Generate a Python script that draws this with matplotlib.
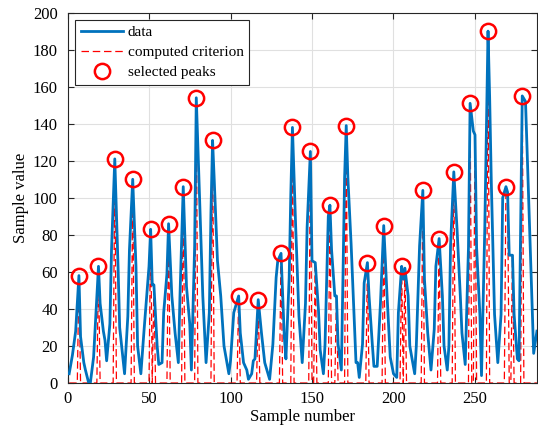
import matplotlib
matplotlib.use('Agg')
import matplotlib.pyplot as plt
import numpy as np

# sample number / value of the data curve (vertices)
sample_x = [1, 3, 5, 7, 8, 10, 11, 13, 14, 16, 17, 19, 20, 22, 23, 24, 26, 27, 29, 31,
            32, 35, 37, 38, 40, 42, 43, 45, 47, 50, 51, 52, 53, 55, 56, 58, 59, 61, 62, 64,
            66, 68, 69, 71, 73, 75, 76, 78, 79, 81, 83, 85, 87, 88, 89, 90, 92, 94, 96, 99,
            100, 102, 105, 106, 108, 110, 111, 113, 114, 115, 117, 119, 121, 124, 126, 128, 129, 131, 133, 134,
            136, 137, 138, 140, 142, 144, 146, 147, 149, 150, 152, 154, 155, 157, 158, 160, 161, 162, 164, 165,
            166, 168, 169, 170, 171, 172, 174, 176, 177, 178, 179, 181, 182, 184, 185, 187, 188, 190, 192, 194,
            196, 198, 200, 202, 203, 205, 206, 207, 209, 210, 213, 214, 216, 218, 219, 221, 223, 225, 226, 228,
            230, 231, 233, 234, 235, 237, 239, 241, 242, 244, 246, 247, 249, 250, 251, 253, 254, 256, 258, 259,
            260, 262, 264, 266, 267, 269, 270, 271, 273, 274, 276, 277, 278, 279, 281, 283, 286, 288]
sample_y = [5, 15, 28, 58, 25, 11, 7, 0, 0, 14, 30, 63, 43, 28, 23, 12, 32, 72, 121, 63,
            30, 5, 36, 72, 110, 63, 20, 5, 29, 63, 83, 53, 53, 20, 10, 11, 38, 59, 86, 47,
            27, 11, 47, 106, 52, 32, 7, 74, 154, 100, 47, 11, 38, 92, 131, 110, 66, 47, 20, 5,
            12, 38, 47, 27, 11, 7, 2, 5, 12, 13, 45, 27, 11, 2, 21, 57, 66, 70, 25, 13,
            57, 102, 138, 84, 36, 11, 43, 84, 125, 66, 65, 39, 18, 5, 21, 90, 96, 72, 47, 47,
            21, 7, 57, 111, 139, 111, 75, 32, 11, 11, 3, 21, 54, 65, 47, 21, 9, 9, 43, 85,
            48, 14, 5, 3, 38, 63, 56, 62, 47, 20, 5, 20, 74, 104, 56, 27, 7, 29, 63, 78,
            47, 20, 7, 20, 74, 114, 83, 47, 27, 10, 73, 151, 136, 134, 73, 37, 4, 83, 190, 154,
            109, 37, 11, 37, 100, 106, 103, 69, 69, 37, 13, 12, 83, 155, 152, 98, 16, 28]

# selected peaks (sample numbers)
peak_x = [7, 19, 29, 40, 51, 62, 71, 79, 89, 105, 117, 131, 138, 149, 161, 171, 184,
          194, 205, 218, 228, 237, 247, 258, 269, 279]
# smaller local maxima that also show up in the criterion
extra_x = [53, 152, 165, 207, 250, 270, 273]

lookup = dict(zip(sample_x, sample_y))
peak_y = [lookup[p] for p in peak_x]

n_samples = 288
crit_n = np.arange(1, n_samples + 1)
crit = np.zeros(n_samples)
for p in peak_x + extra_x:
    crit[p - 1] = lookup[p]

plt.rcParams['font.family'] = ['Liberation Serif', 'DejaVu Serif']
plt.rcParams['mathtext.fontset'] = 'stix'

fig = plt.figure(figsize=(5.38, 4.34), dpi=100)
ax = fig.add_axes([0.1255, 0.1175, 0.8725, 0.8535])

ax.plot(sample_x, sample_y, color='#0072BD', lw=2, label='data', zorder=3)
ax.plot(crit_n, crit, color='red', lw=0.9, dashes=(6, 3), label='computed criterion', zorder=2)
ax.plot(peak_x, peak_y, 'o', ms=11, mfc='none', mec='red', mew=1.8,
        label='selected peaks', zorder=4)

ax.set_xlim(0, n_samples)
ax.set_ylim(0, 200)
ax.set_xticks(np.arange(0, 251, 50))
ax.set_yticks(np.arange(0, 201, 20))
ax.grid(True, color='#e0e0e0', lw=0.8)
ax.set_axisbelow(True)
ax.tick_params(direction='in', top=True, right=True, length=4, labelsize=12,
               color='#262626')
ax.tick_params(axis='x', pad=6)
ax.tick_params(axis='y', pad=7)
for s in ax.spines.values():
    s.set_color('#262626')
    s.set_linewidth(0.8)

ax.set_xlabel('Sample number', fontsize=12, labelpad=1)
ax.set_ylabel('Sample value', fontsize=12, labelpad=3)

leg = ax.legend(loc='upper left', fontsize=11, handlelength=2.8, fancybox=False,
                framealpha=1, edgecolor='#262626', borderaxespad=0.5,
                labelspacing=0.42, borderpad=0.35, handletextpad=0.3)
leg.get_frame().set_linewidth(0.8)

fig.savefig('out.png', dpi=100)
